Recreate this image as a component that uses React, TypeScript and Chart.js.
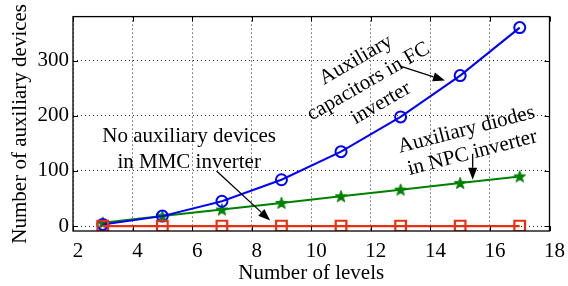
import React, { useEffect, useRef } from 'react';
import { Chart, registerables } from 'chart.js';

Chart.register(...registerables);

// ---- data ----
const levels = [3, 5, 7, 9, 11, 13, 15, 17];
const fcCapacitors = [3, 18, 45, 84, 135, 198, 273, 360];
const npcDiodes = [6, 18, 30, 42, 54, 66, 78, 90];
const mmcDevices = [0, 0, 0, 0, 0, 0, 0, 0];
const xTicks = [2, 4, 6, 8, 10, 12, 14, 16, 18];
const yTicks = [0, 100, 200, 300];

const xTitle = 'Number of levels';
const yTitle = 'Number of auxiliary devices';

// annotations (data coordinates)
const notes = [
  { lines: ['No auxiliary devices', 'in MMC inverter'], x: 5.9, y: 138, angle: 0, lh: 26 },
  { lines: ['Auxiliary', 'capacitors in FC', 'inverter'], x: 11.92, y: 262, angle: -30, lh: 25 },
  { lines: ['Auxiliary diodes', 'in NPC inverter'], x: 15.31, y: 153.5, angle: -14.5, lh: 24 },
];
const arrows = [
  { x1: 6.82, y1: 100, x2: 8.62, y2: 10 },
  { x1: 12.99, y1: 290, x2: 14.49, y2: 264 },
  { x1: 15.42, y1: 131, x2: 15.42, y2: 84 },
];

const FONT = "'Liberation Serif', 'DejaVu Serif', serif";
const BLUE = '#0000ff';
const GREEN = '#008000';
const RED = '#e8300e';

function makeStar(color: string): HTMLCanvasElement {
  const c = document.createElement('canvas');
  c.width = 14;
  c.height = 14;
  const ctx = c.getContext('2d')!;
  const cx = 7, cy = 7.5, R = 6.2, r = 2.6;
  ctx.beginPath();
  for (let i = 0; i < 10; i++) {
    const rad = i % 2 === 0 ? R : r;
    const a = -Math.PI / 2 + (i * Math.PI) / 5;
    const px = cx + rad * Math.cos(a);
    const py = cy + rad * Math.sin(a);
    if (i === 0) ctx.moveTo(px, py);
    else ctx.lineTo(px, py);
  }
  ctx.closePath();
  ctx.fillStyle = color;
  ctx.fill();
  ctx.strokeStyle = color;
  ctx.lineWidth = 1;
  ctx.stroke();
  return c;
}

const framePlugin = {
  id: 'frameAndNotes',
  afterDraw(chart: any) {
    const { ctx, chartArea: a, scales } = chart;
    const xs = scales.x;
    const ys = scales.y;
    ctx.save();
    // box
    ctx.strokeStyle = '#000';
    ctx.lineWidth = 1.3;
    ctx.setLineDash([]);
    ctx.strokeRect(a.left, a.top, a.right - a.left, a.bottom - a.top);
    // inward ticks
    const tl = 5;
    ctx.lineWidth = 1;
    ctx.beginPath();
    xTicks.forEach((v) => {
      const px = Math.round(xs.getPixelForValue(v)) + 0.5;
      ctx.moveTo(px, a.bottom);
      ctx.lineTo(px, a.bottom - tl);
      ctx.moveTo(px, a.top);
      ctx.lineTo(px, a.top + tl);
    });
    yTicks.forEach((v) => {
      const py = Math.round(ys.getPixelForValue(v)) + 0.5;
      ctx.moveTo(a.left, py);
      ctx.lineTo(a.left + tl, py);
      ctx.moveTo(a.right, py);
      ctx.lineTo(a.right - tl, py);
    });
    ctx.stroke();

    // annotation texts
    ctx.fillStyle = '#000';
    ctx.font = `21px ${FONT}`;
    ctx.textAlign = 'center';
    ctx.textBaseline = 'middle';
    notes.forEach((n) => {
      const cx = xs.getPixelForValue(n.x);
      const cy = ys.getPixelForValue(n.y);
      ctx.save();
      ctx.translate(cx, cy);
      ctx.rotate((n.angle * Math.PI) / 180);
      n.lines.forEach((t, i) => {
        ctx.fillText(t, 0, (i - (n.lines.length - 1) / 2) * n.lh);
      });
      ctx.restore();
    });

    // arrows
    arrows.forEach((ar) => {
      const x1 = xs.getPixelForValue(ar.x1);
      const y1 = ys.getPixelForValue(ar.y1);
      const x2 = xs.getPixelForValue(ar.x2);
      const y2 = ys.getPixelForValue(ar.y2);
      const ang = Math.atan2(y2 - y1, x2 - x1);
      const hl = 12, hw = 4.5;
      const bx = x2 - hl * Math.cos(ang);
      const by = y2 - hl * Math.sin(ang);
      ctx.strokeStyle = '#000';
      ctx.lineWidth = 1.3;
      ctx.beginPath();
      ctx.moveTo(x1, y1);
      ctx.lineTo(bx, by);
      ctx.stroke();
      ctx.beginPath();
      ctx.moveTo(x2, y2);
      ctx.lineTo(bx + hw * Math.sin(ang), by - hw * Math.cos(ang));
      ctx.lineTo(bx - hw * Math.sin(ang), by + hw * Math.cos(ang));
      ctx.closePath();
      ctx.fillStyle = '#000';
      ctx.fill();
    });
    ctx.restore();
  },
};

export default function App() {
  const ref = useRef<HTMLCanvasElement | null>(null);

  useEffect(() => {
    document.body.style.margin = '0';
    const canvas = ref.current!;
    const star = makeStar(GREEN);
    const tickFont = { family: FONT, size: 21 };

    const chart = new Chart(canvas, {
      type: 'line',
      data: {
        datasets: [
          {
            label: 'MMC',
            data: levels.map((x, i) => ({ x, y: mmcDevices[i] })),
            borderColor: RED,
            borderWidth: 2.2,
            pointStyle: 'rect',
            pointRadius: 7.5,
            pointBorderWidth: 2.2,
            pointBorderColor: RED,
            pointBackgroundColor: 'rgba(0,0,0,0)',
            tension: 0,
          },
          {
            label: 'FC',
            data: levels.map((x, i) => ({ x, y: fcCapacitors[i] })),
            borderColor: BLUE,
            borderWidth: 2,
            pointStyle: 'circle',
            pointRadius: 5.5,
            pointBorderWidth: 2,
            pointBorderColor: BLUE,
            pointBackgroundColor: 'rgba(0,0,0,0)',
            tension: 0,
          },
          {
            label: 'NPC',
            data: levels.map((x, i) => ({ x, y: npcDiodes[i] })),
            borderColor: GREEN,
            borderWidth: 2,
            pointStyle: star as any,
            pointRadius: 6,
            tension: 0,
          },
        ],
      },
      options: {
        responsive: false,
        animation: false,
        events: [],
        layout: { padding: { top: 6, right: 15, left: 0, bottom: 0 } },
        plugins: {
          legend: { display: false },
          tooltip: { enabled: false },
          title: { display: false },
        },
        scales: {
          x: {
            type: 'linear',
            min: 2,
            max: 18,
            afterBuildTicks: (s: any) => {
              s.ticks = xTicks.map((v) => ({ value: v }));
            },
            afterFit: (s: any) => {
              s.height = 55;
            },
            grid: { color: '#222', lineWidth: 1, drawTicks: false, tickLength: 0 },
            border: { display: false, dash: [1, 3] },
            ticks: {
              font: tickFont,
              color: '#000',
              padding: 8,
              labelOffset: 5,
              maxRotation: 0,
              autoSkip: false,
            },
            title: {
              display: true,
              text: xTitle,
              font: tickFont,
              color: '#000',
              padding: { top: 0, bottom: 0 },
            },
          },
          y: {
            type: 'linear',
            min: -9,
            max: 380,
            afterBuildTicks: (s: any) => {
              s.ticks = yTicks.map((v) => ({ value: v }));
            },
            afterFit: (s: any) => {
              s.width = 73;
            },
            grid: { color: '#222', lineWidth: 1, drawTicks: false, tickLength: 0 },
            border: { display: false, dash: [1, 3] },
            ticks: {
              font: tickFont,
              color: '#000',
              padding: 4,
              autoSkip: false,
            },
            title: {
              display: true,
              text: yTitle,
              font: tickFont,
              color: '#000',
              padding: { top: 8, bottom: 0 },
            },
          },
        },
      },
      plugins: [framePlugin],
    } as any);

    return () => chart.destroy();
  }, []);

  return <canvas ref={ref} width={568} height={286} style={{ display: 'block' }} />;
}
